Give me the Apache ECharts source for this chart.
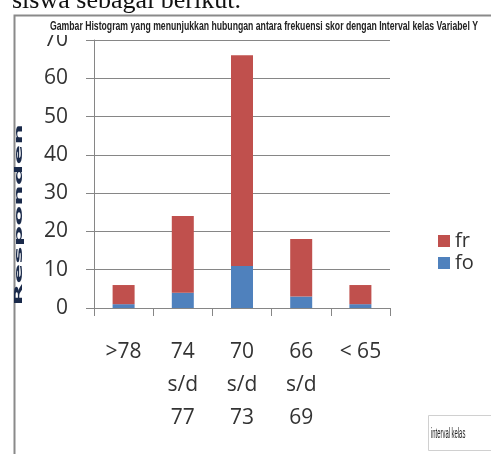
<!DOCTYPE html>
<html>
<head>
<meta charset="utf-8">
<script src="https://cdn.jsdelivr.net/npm/echarts@6/dist/echarts.min.js"></script>
<style>
html,body{margin:0;padding:0;background:#fff;}
#c{width:491px;height:454px;}
</style>
</head>
<body>
<div id="c"></div>
<script>
var categories = ['>78', '74\ns/d\n77', '70\ns/d\n73', '66\ns/d\n69', '< 65'];
var foValues = [1, 4, 11, 3, 1];
var frValues = [5, 20, 55, 15, 5];
var yTicks = { min: 0, max: 70, interval: 10 };
var titleText = 'Gambar Histogram yang menunjukkan hubungan antara frekuensi skor dengan Interval kelas Variabel Y';
var yName = 'Responden';
var xName = 'interval kelas';
var introText = 'siswa sebagai berikut.';

var titleFont = 'bold 12px "Liberation Sans", sans-serif';
var ctx = document.createElement('canvas').getContext('2d');
ctx.font = titleFont;
var titleScale = 428 / ctx.measureText(titleText).width;

var chart = echarts.init(document.getElementById('c'));
var labelFont = '"Open Sans", sans-serif';
chart.setOption({
  animation: false,
  backgroundColor: '#fff',
  legend: {
    orient: 'vertical',
    left: 433,
    top: 226,
    itemWidth: 12,
    itemHeight: 12,
    itemGap: 2,
    icon: 'rect',
    data: ['fr', 'fo'],
    textStyle: { fontFamily: labelFont, fontSize: 20, color: '#333' }
  },
  grid: { left: 94, right: 101, top: 40, bottom: 146 },
  xAxis: {
    type: 'category',
    data: categories,
    axisLine: { lineStyle: { color: '#868686' } },
    axisTick: { show: true, length: 8, lineStyle: { color: '#868686' } },
    axisLabel: { margin: 28, lineHeight: 33, fontFamily: labelFont, fontSize: 21, color: '#333', interval: 0 }
  },
  yAxis: {
    type: 'value',
    min: yTicks.min, max: yTicks.max, interval: yTicks.interval,
    axisLine: { show: true, lineStyle: { color: '#868686' } },
    axisTick: { show: true, length: 8, lineStyle: { color: '#868686' } },
    splitLine: { lineStyle: { color: '#868686' } },
    axisLabel: { margin: 26, fontFamily: labelFont, fontSize: 21, color: '#333' }
  },
  series: [
    { name: 'fo', type: 'bar', stack: 's', data: foValues, barWidth: 22, itemStyle: { color: '#4F81BD' } },
    { name: 'fr', type: 'bar', stack: 's', data: frValues, barWidth: 22, itemStyle: { color: '#C0504D' } }
  ],
  graphic: [
    { type: 'rect', left: 12, top: 13, shape: { width: 600, height: 600 }, style: { fill: null, stroke: '#8a8a8a', lineWidth: 2 }, z: -10 },
    { type: 'text', x: 12, y: 1, style: { text: introText, font: '26px "Liberation Serif", serif', fill: '#111', textVerticalAlign: 'middle' }, z: 10 },
    { type: 'rect', x: 44, y: 18, shape: { width: 440, height: 17 }, style: { fill: '#fff' }, z: 20 },
    { type: 'text', x: 50, y: 27, scaleX: titleScale, scaleY: 1, z: 21,
      style: { text: titleText, font: titleFont, fill: '#222', textVerticalAlign: 'middle' } },
    { type: 'text', x: 19, y: 215, rotation: Math.PI / 2, scaleX: 2.9, scaleY: 1,
      style: { text: yName, font: 'bold 10px "DejaVu Sans", sans-serif', fill: '#1a2a4a', textAlign: 'center', textVerticalAlign: 'middle' } },
    { type: 'rect', left: 428, top: 415, shape: { width: 80, height: 35 }, style: { fill: '#fff', stroke: '#d0d0d0', lineWidth: 1 } },
    { type: 'text', x: 431, y: 434, scaleX: 0.42, scaleY: 1,
      style: { text: xName, font: '14px "Liberation Sans", sans-serif', fill: '#222', textVerticalAlign: 'middle' } }
  ]
});
</script>
</body>
</html>
